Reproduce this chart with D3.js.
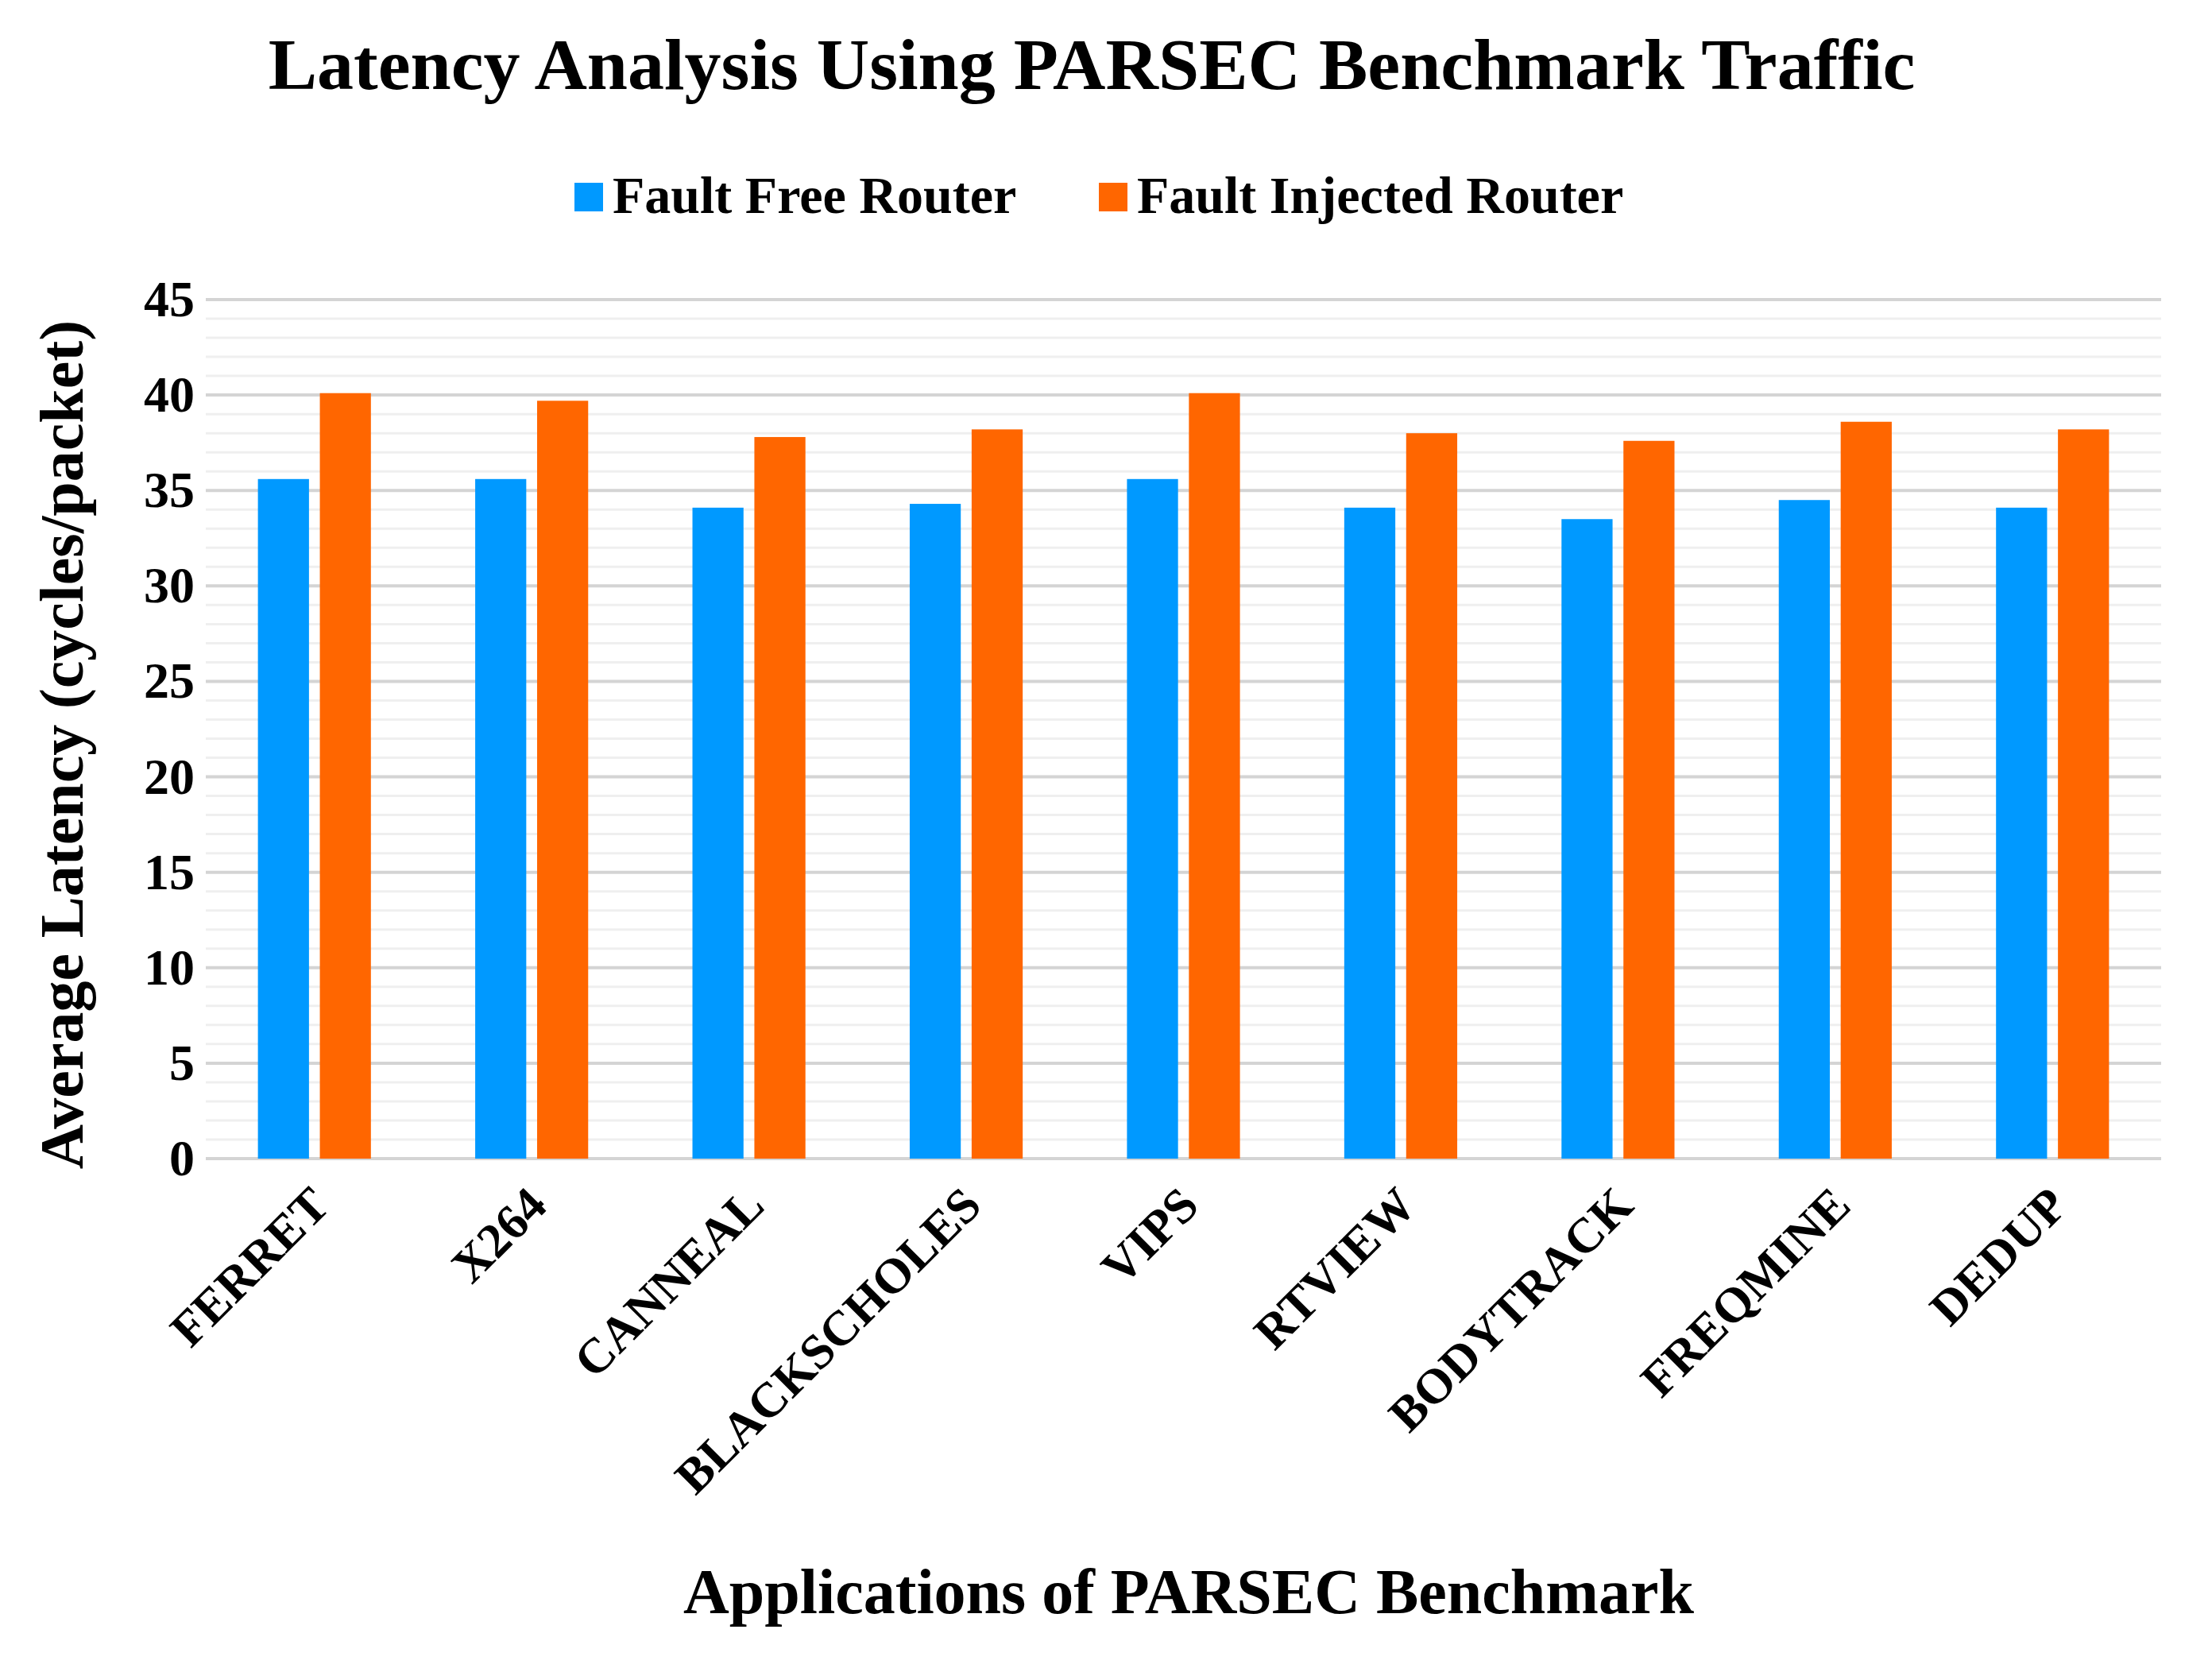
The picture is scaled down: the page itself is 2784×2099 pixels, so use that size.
<!DOCTYPE html>
<html><head><meta charset="utf-8">
<script src="https://cdn.jsdelivr.net/npm/d3@7"></script>
<style>body{margin:0;background:#fff}</style></head>
<body><svg id="c" width="2784" height="2099"></svg>
<script>
const categories=["FERRET","X264","CANNEAL","BLACKSCHOLES","VIPS","RTVIEW","BODYTRACK","FREQMINE","DEDUP"];
const faultFree=[35.6,35.6,34.1,34.3,35.6,34.1,33.5,34.5,34.1];
const faultInjected=[40.1,39.7,37.8,38.2,40.1,38.0,37.6,38.6,38.2];
const seriesNames=["Fault Free Router","Fault Injected Router"];
const colors=["#0099ff","#ff6600"];
const yTicks=[0,5,10,15,20,25,30,35,40,45];

const svg=d3.select("#c");
const F="'Liberation Serif','Times New Roman',serif";
const L=259,R=2720,T=377,B=1458;
const x=d3.scaleBand().domain(categories).range([L,R]);
const y=d3.scaleLinear().domain([0,45]).range([B,T]);

svg.append("g").selectAll("line").data(d3.range(0,46)).join("line")
 .attr("x1",L).attr("x2",R).attr("y1",d=>y(d)).attr("y2",d=>y(d))
 .attr("stroke",d=>d%5===0?"#d4d4d4":"#efefef").attr("stroke-width",d=>d%5===0?4:3);

const bw=x.bandwidth()*0.235, gap=x.bandwidth()*0.05;
const g=svg.append("g");
[faultFree,faultInjected].forEach((arr,si)=>{
 g.selectAll(null).data(arr).join("rect")
  .attr("x",(d,i)=>x(categories[i])+x.bandwidth()/2+(si===0?-gap/2-bw:gap/2))
  .attr("y",d=>y(d)).attr("width",bw).attr("height",d=>B-y(d)).attr("fill",colors[si]);
});

const ya=svg.append("g").attr("transform",`translate(${L},0)`)
 .call(d3.axisLeft(y).tickValues(yTicks).tickSize(0).tickPadding(14));
ya.select(".domain").remove();
ya.selectAll("text").attr("font-family",F).attr("font-weight","bold").attr("font-size",64).attr("fill","#000");

const xa=svg.append("g").attr("transform",`translate(0,${B})`)
 .call(d3.axisBottom(x).tickSize(0));
xa.select(".domain").remove();
xa.selectAll("text").attr("font-family",F).attr("font-weight","bold").attr("font-size",62).attr("fill","#000")
 .attr("text-anchor","end").attr("dy",0).attr("transform","translate(20,60) rotate(-45)");

svg.append("text").attr("x",1374).attr("y",112).attr("text-anchor","middle")
 .attr("font-family",F).attr("font-weight","bold").attr("font-size",92).text("Latency Analysis Using PARSEC Benchmark Traffic");
svg.append("text").attr("x",1496).attr("y",2030).attr("text-anchor","middle")
 .attr("font-family",F).attr("font-weight","bold").attr("font-size",80).text("Applications of PARSEC Benchmark");
svg.append("text").attr("transform","translate(104,937) rotate(-90)").attr("text-anchor","middle")
 .attr("font-family",F).attr("font-weight","bold").attr("font-size",78).text("Average Latency (cycles/packet)");

const lx=[723,1383];
seriesNames.forEach((n,i)=>{
 svg.append("rect").attr("x",lx[i]).attr("y",230).attr("width",36).attr("height",36).attr("fill",colors[i]);
 svg.append("text").attr("x",lx[i]+48).attr("y",268).attr("font-family",F).attr("font-weight","bold")
  .attr("font-size",66).text(n);
});
</script></body></html>
